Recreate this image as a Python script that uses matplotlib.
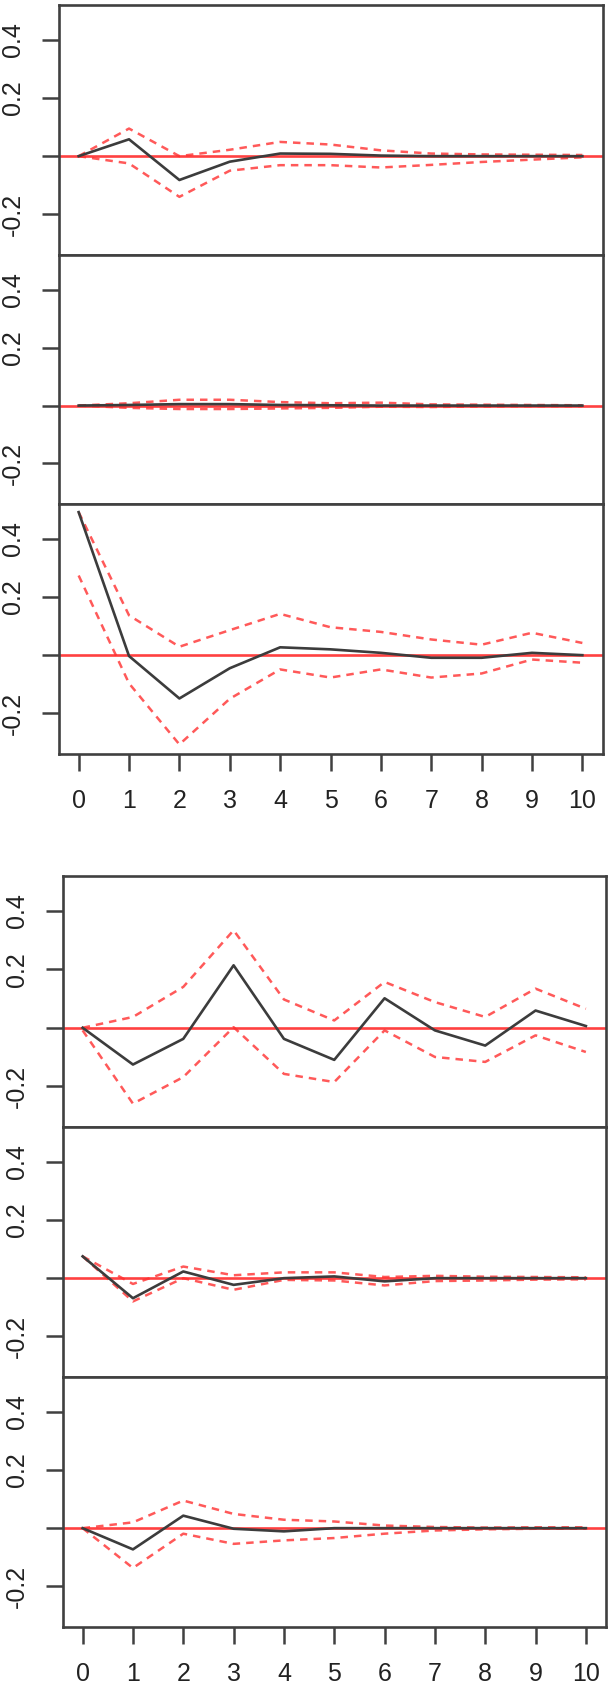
import numpy as np
import matplotlib
matplotlib.use("Agg")
import matplotlib.pyplot as plt

plt.rcParams['font.family'] = ['Liberation Sans', 'DejaVu Sans']

lags = list(range(11))

# group 1
p1_irf = [0, 0.058, -0.082, -0.019, 0.009, 0.008, 0.002, 0.0, 0.0, 0.0, 0.0]
p1_up = [0, 0.095, 0.0, 0.022, 0.049, 0.04, 0.02, 0.009, 0.006, 0.005, 0.004]
p1_lo = [0, -0.025, -0.14, -0.05, -0.031, -0.031, -0.039, -0.03, -0.02, -0.012, -0.004]

p2_irf = [0, 0.002, 0.005, 0.005, 0.002, 0.001, 0.0, 0.0, 0.0, 0.0, 0.0]
p2_up = [0, 0.008, 0.02, 0.02, 0.012, 0.008, 0.01, 0.004, 0.003, 0.002, 0.001]
p2_lo = [0, -0.008, -0.012, -0.012, -0.01, -0.008, -0.004, -0.005, -0.003, -0.002, -0.002]

p3_irf = [0.492, -0.003, -0.149, -0.045, 0.027, 0.02, 0.008, -0.009, -0.009, 0.008, 0.0]
p3_up = [0.492, 0.137, 0.029, 0.086, 0.142, 0.096, 0.08, 0.054, 0.036, 0.077, 0.042]
p3_lo = [0.274, -0.097, -0.307, -0.15, -0.049, -0.077, -0.049, -0.077, -0.063, -0.015, -0.026]

# group 2
p4_irf = [0, -0.126, -0.038, 0.214, -0.038, -0.11, 0.101, -0.009, -0.061, 0.059, 0.006]
p4_up = [0, 0.037, 0.14, 0.334, 0.097, 0.025, 0.157, 0.088, 0.037, 0.134, 0.065]
p4_lo = [-0.009, -0.26, -0.169, 0.002, -0.158, -0.186, -0.009, -0.1, -0.117, -0.026, -0.083]

p5_irf = [0.075, -0.069, 0.023, -0.023, 0.0, 0.006, -0.011, 0.0, 0.0, 0.0, 0.0]
p5_up = [0.075, -0.02, 0.04, 0.01, 0.02, 0.02, 0.004, 0.008, 0.005, 0.004, 0.003]
p5_lo = [0.075, -0.08, 0.0, -0.04, -0.006, -0.008, -0.025, -0.01, -0.008, -0.005, -0.004]

p6_irf = [0, -0.073, 0.043, -0.002, -0.011, 0.0, 0.0, 0.0, 0.0, 0.0, 0.0]
p6_up = [0, 0.02, 0.095, 0.049, 0.029, 0.023, 0.009, 0.004, 0.002, 0.003, 0.003]
p6_lo = [0, -0.137, -0.019, -0.054, -0.042, -0.034, -0.019, -0.008, -0.004, -0.002, -0.002]

yticks = [-0.2, 0.0, 0.2, 0.4]
ytick_labels = ['-0.2', '', '0.2', '0.4']

W, H = 610, 1688
fig = plt.figure(figsize=(W / 100, H / 100), dpi=100)

grey = '#404040'

def panel(left, right, top, bottom, irf, up, lo, show_x):
    ax = fig.add_axes([left / W, 1 - bottom / H, (right - left) / W, (bottom - top) / H])
    ax.axhline(0, color='#ff2020', lw=1.9, alpha=0.85, zorder=1)
    ax.plot(lags, up, color='#ff3030', lw=1.8, alpha=0.8, dashes=(3, 2.4), zorder=2)
    ax.plot(lags, lo, color='#ff3030', lw=1.8, alpha=0.8, dashes=(3, 2.4), zorder=2)
    ax.plot(lags, irf, color='#3c3c3c', lw=1.9, zorder=3)
    ax.set_xlim(-0.4, 10.4)
    ax.set_ylim(-0.34, 0.52)
    ax.set_yticks(yticks)
    ax.set_yticklabels(ytick_labels, rotation=90, va='center')
    ax.tick_params(axis='y', length=12, width=1.8, color=grey, pad=12,
                   labelsize=18, labelcolor='#222222')
    if show_x:
        ax.set_xticks(lags)
        ax.tick_params(axis='x', length=12, width=1.8, color=grey, pad=13,
                       labelsize=18, labelcolor='#222222')
    else:
        ax.set_xticks([])
    for s in ax.spines.values():
        s.set_linewidth(1.9)
        s.set_color(grey)
    return ax

panel(58.5, 602.5, 5, 255, p1_irf, p1_up, p1_lo, False)
panel(58.5, 602.5, 255, 504, p2_irf, p2_up, p2_lo, False)
panel(58.5, 602.5, 504, 754, p3_irf, p3_up, p3_lo, True)

panel(62.5, 606, 876, 1127, p4_irf, p4_up, p4_lo, False)
panel(62.5, 606, 1127, 1377, p5_irf, p5_up, p5_lo, False)
panel(62.5, 606, 1377, 1627, p6_irf, p6_up, p6_lo, True)

fig.savefig('out.png', dpi=100)
